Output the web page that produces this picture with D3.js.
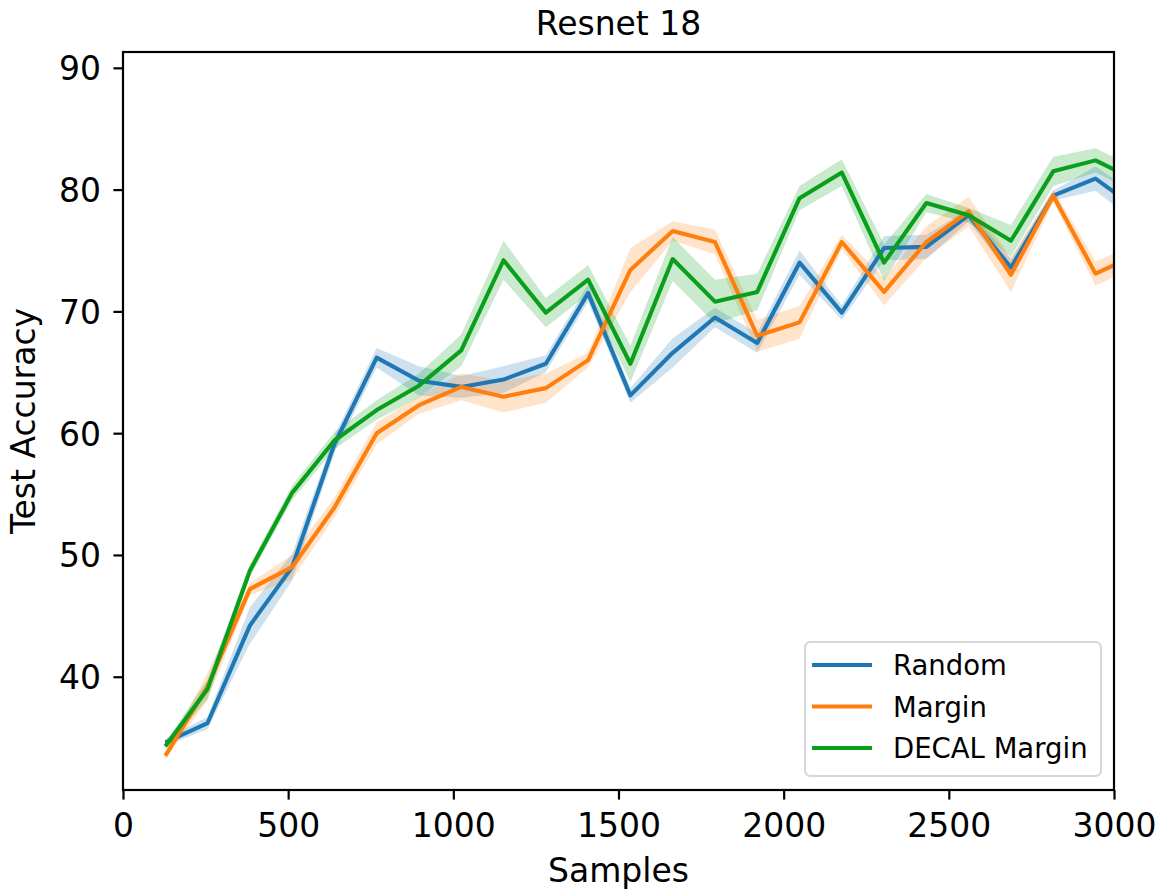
<!DOCTYPE html>
<html>
<head>
<meta charset="utf-8">
<script src="https://cdn.jsdelivr.net/npm/d3@7"></script>
<style>
  body { margin: 0; background: #fff; }
  text { font-family: 'DejaVu Sans', sans-serif; fill: #000; }
</style>
</head>
<body>
<div id="chart"></div>
<script>
// values
const samples = [128, 256, 384, 512, 640, 768, 896, 1024, 1152, 1280, 1408, 1536,
                 1664, 1792, 1920, 2048, 2176, 2304, 2432, 2560, 2688, 2816, 2944, 3072];

const random_mean = [34.6, 36.2, 44.2, 49.0, 59.1, 66.2, 64.3, 63.8, 64.4, 65.7, 71.5, 63.1,
                     66.6, 69.5, 67.4, 74.0, 69.9, 75.2, 75.3, 77.9, 73.6, 79.5, 80.9, 78.4];
const random_std  = [0.3, 0.5, 1.5, 1.1, 0.7, 0.8, 1.2, 0.9, 1.1, 0.7, 0.7, 0.6,
                     1.2, 0.8, 0.8, 1.0, 0.6, 1.0, 1.0, 0.5, 0.7, 0.4, 1.0, 1.2];

const margin_mean = [33.5, 39.2, 47.2, 49.0, 53.9, 60.0, 62.3, 63.8, 63.0, 63.7, 66.0, 73.4,
                     76.6, 75.7, 68.0, 69.1, 75.7, 71.6, 75.7, 78.2, 73.0, 79.5, 73.1, 74.7];
const margin_std  = [0.3, 1.1, 0.5, 1.0, 0.8, 0.9, 0.7, 1.1, 1.3, 1.2, 0.6, 1.8,
                     0.8, 1.0, 1.3, 1.35, 0.6, 1.1, 1.3, 1.2, 1.4, 0.5, 1.0, 0.9];

const decal_mean  = [34.3, 39.0, 48.7, 55.1, 59.4, 61.9, 63.9, 66.8, 74.2, 69.9, 72.6, 65.7,
                     74.3, 70.8, 71.6, 79.3, 81.4, 74.0, 78.9, 77.9, 75.8, 81.5, 82.4, 80.7];
const decal_std   = [0.3, 0.8, 0.5, 0.6, 0.7, 0.8, 1.0, 1.3, 1.6, 1.2, 1.2, 1.5,
                     1.8, 1.8, 1.5, 1.0, 1.1, 1.5, 0.75, 0.6, 1.3, 1.2, 1.0, 1.0];

const series_names = ['Random', 'Margin', 'DECAL Margin'];
const x_ticks = [0, 500, 1000, 1500, 2000, 2500, 3000];
const y_ticks = [40, 50, 60, 70, 80, 90];

const series = [
  { name: series_names[0], mean: random_mean, std: random_std, color: '#1f77b4' },
  { name: series_names[1], mean: margin_mean, std: margin_std, color: '#ff7f0e' },
  { name: series_names[2], mean: decal_mean,  std: decal_std,  color: '#0a9f1a' }
];

const W = 1168, H = 892;
const box = { left: 123, right: 1114, top: 52, bottom: 790 };

let svg = d3.select('#chart').append('svg').attr('width', W).attr('height', H);

let x = d3.scaleLinear().domain([0, 3000]).range([box.left, box.right]);
let y = d3.scaleLinear().domain([30.7, 91.3]).range([box.bottom, box.top]);

svg.append('clipPath').attr('id', 'clip')
  .append('rect')
  .attr('x', box.left).attr('y', box.top)
  .attr('width', box.right - box.left).attr('height', box.bottom - box.top);

let plotArea = svg.append('g').attr('clip-path', 'url(#clip)');

// bands first, then lines on top
series.forEach(s => {
  let pts = samples.map((v, i) => [v, s.mean[i], s.std[i]]);
  let area = d3.area()
    .x(d => x(d[0]))
    .y0(d => y(d[1] - d[2]))
    .y1(d => y(d[1] + d[2]));
  plotArea.append('path')
    .attr('d', area(pts))
    .attr('fill', s.color)
    .attr('fill-opacity', 0.22)
    .attr('stroke', 'none');
});

series.forEach(s => {
  let line = d3.line().x(d => x(d[0])).y(d => y(d[1]));
  plotArea.append('path')
    .attr('d', line(samples.map((v, i) => [v, s.mean[i]])))
    .attr('fill', 'none')
    .attr('stroke', s.color)
    .attr('stroke-width', 4.1)
    .attr('stroke-linejoin', 'round')
    .attr('stroke-linecap', 'butt');
});

// axes (matplotlib-like ticks: length 9.6, pad 9.6)
let xAxis = d3.axisBottom(x).tickValues(x_ticks).tickFormat(d3.format('d'))
  .tickSizeInner(9.6).tickSizeOuter(0).tickPadding(9.6);
let gx = svg.append('g').attr('transform', 'translate(0,' + box.bottom + ')').call(xAxis);
let yAxis = d3.axisLeft(y).tickValues(y_ticks).tickFormat(d3.format('d'))
  .tickSizeInner(9.6).tickSizeOuter(0).tickPadding(9.6);
let gy = svg.append('g').attr('transform', 'translate(' + box.left + ',0)').call(yAxis);

[gx, gy].forEach(g => {
  g.select('.domain').remove();
  g.selectAll('.tick line').attr('stroke', '#000').attr('stroke-width', 2.2);
  g.selectAll('.tick text').attr('font-size', 33).attr('font-family', 'DejaVu Sans')
    .attr('fill', '#000');
});
gx.selectAll('.tick text').attr('dy', null).attr('y', 46.5);
gy.selectAll('.tick text').attr('dy', null).attr('x', -22).attr('y', 12);

// frame
svg.append('rect')
  .attr('x', box.left).attr('y', box.top)
  .attr('width', box.right - box.left).attr('height', box.bottom - box.top)
  .attr('fill', 'none').attr('stroke', '#000').attr('stroke-width', 2.2);

// labels
svg.append('text').attr('x', (box.left + box.right) / 2).attr('y', 35)
  .attr('text-anchor', 'middle').attr('font-size', 33).text('Resnet 18');
svg.append('text').attr('x', (box.left + box.right) / 2).attr('y', 882)
  .attr('text-anchor', 'middle').attr('font-size', 33).text('Samples');
svg.append('text')
  .attr('transform', 'translate(35,' + ((box.top + box.bottom) / 2) + ') rotate(-90)')
  .attr('text-anchor', 'middle').attr('font-size', 33).text('Test Accuracy');

// legend
let lg = svg.append('g').attr('transform', 'translate(805,642)');
lg.append('rect')
  .attr('width', 296).attr('height', 134).attr('rx', 5.5).attr('ry', 5.5)
  .attr('fill', '#fff').attr('fill-opacity', 0.8)
  .attr('stroke', '#d6d6d6').attr('stroke-width', 2);
series.forEach((s, i) => {
  let cy = 23 + i * 41.5;
  lg.append('line')
    .attr('x1', 7).attr('x2', 67).attr('y1', cy).attr('y2', cy)
    .attr('stroke', s.color).attr('stroke-width', 4.1);
  lg.append('text').attr('x', 88).attr('y', cy + 10)
    .attr('font-size', 27.5).text(s.name);
});
</script>
</body>
</html>
